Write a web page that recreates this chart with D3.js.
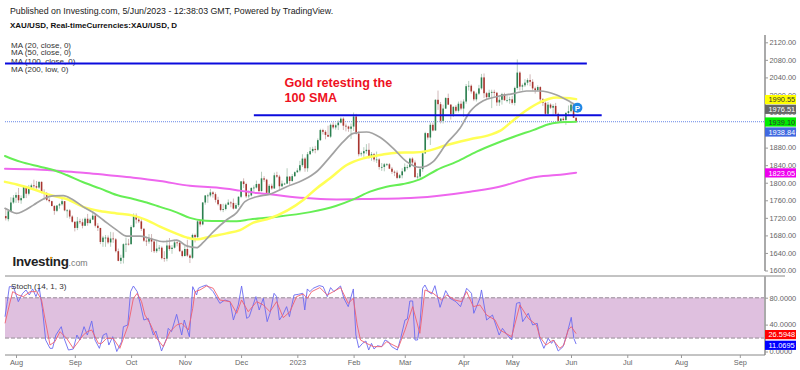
<!DOCTYPE html>
<html>
<head>
<meta charset="utf-8">
<script src="https://cdn.jsdelivr.net/npm/d3@7/dist/d3.min.js"></script>
<style>
  html, body { margin: 0; padding: 0; background: #fff; }
  svg { display: block; font-family: "Liberation Sans", Arial, sans-serif; }
</style>
</head>
<body>
<div id="chart"></div>
<script>
// daily candles, index 0 = 1 Aug 2022, first candle at -4, last at 219 (5 Jun 2023)
const firstIndex = -4;
const opens = [
  1724,1717,1735,1755,
  1766,1772,1760,1765,1791, 1775,1789,1794,1792,1789, 1802,1779,1775,1761,1758, 1747,1736,1748,1751,1758, 1737,1737,1723,
  1711,1697, 1712,1710,1702,1718,1708, 1716,1725,1702,1697,1665, 1675,1675,1664,1673,1671, 1644,1622,1629,1660,1661,
  1660,1699,1725,1716,1712, 1695,1668,1666,1673,1666, 1644,1650,1652,1628,1627, 1657,1649,1652,1664,1663, 1644,
  1633,1649,1634,1629, 1681,1676,1712,1705,1755, 1771,1771,1778,1774,1761, 1751,1738,1740,1750,1755, 1754,1741,1749,
  1768,1803, 1797,1769,1771,1788,1789, 1797,1781,1810,1807,1777, 1793,1787,1817,1814,1792, 1798,1798,1814,1804,1815,
  1824,1828,1840,1855,1833, 1865,1872,1877,1875,1897, 1920,1916,1909,1905,1932, 1926,1931,1937,1946,1930, 1928,1923,
  1928,1951,1912, 1865,1867,1872,1875,1861, 1865,1853,1853,1836,1836, 1842,1842,1832,1825,1823, 1811,1817,
  1826,1836,1836, 1855,1846,1813,1814,1831, 1867,1913,1903,1932,1919, 1989,1979,1941,1969,1993, 1978,1956,1973,1964,1980,
  1969,1985,2020,2021, 2008,1990,2003,2015,2040, 2004,1995,2005,2007,2005, 1983,1989,2002,1988,1988,
  1990,1982,2016,2051,2019, 2022,2028,2034,2030,2015, 2011,2018,1990,1982,1957, 1978,1971,1975,1957,1941, 1946,1943,1959,
  1963,1978,1948
];
const highs = [
  1741,1740,1767,1772,
  1778,1788,1771,1794,1792, 1795,1798,1807,1804,1803, 1803,1785,1779,1766,1759, 1749,1749,1754,1765,1758, 1740,1740,1726,
  1712,1722, 1718,1718,1721,1729,1720, 1735,1729,1708,1697,1679, 1681,1680,1688,1687,1674, 1650,1636,1662,1675,1672,
  1703,1730,1730,1723,1717, 1697,1677,1683,1683,1671, 1668,1658,1655,1644,1670, 1674,1658,1670,1669,1666, 1647,
  1656,1670,1637,1684, 1684,1717,1715,1756,1772, 1775,1786,1781,1778,1768, 1752,1752,1753,1762,1758, 1764,1754,1769,
  1804,1810, 1800,1782,1790,1794,1805, 1799,1825,1815,1809,1797, 1798,1823,1825,1818,1805, 1800,1833,1815,1820,1826,
  1833,1850,1865,1858,1870, 1881,1882,1884,1901,1923, 1923,1920,1930,1935,1938, 1935,1942,1949,1949,1935, 1930,1935,
  1960,1957,1918, 1871,1881,1888,1890,1870, 1868,1871,1856,1845,1845, 1845,1845,1836,1828,1828, 1820,1833,
  1844,1841,1857, 1858,1851,1822,1836,1870, 1916,1913,1937,1937,1990, 2010,1984,1978,1995,2003, 1979,1974,1977,1985,1987,
  1990,2025,2032,2024, 2010,2006,2023,2048,2049, 2007,2012,2012,2012,2007, 1995,2005,2005,1999,1996,
  1998,2019,2081,2054,2026, 2036,2038,2047,2036,2019, 2022,2020,1993,1985,1984, 1981,1979,1982,1960,1947, 1950,1961,1976,
  1983,1982,1949
];
const lows = [
  1714,1712,1733,1752,
  1754,1754,1752,1764,1765, 1771,1784,1788,1786,1786, 1776,1761,1758,1755,1746, 1727,1733,1741,1748,1735, 1720,1718,1709,
  1689,1692, 1706,1696,1701,1702,1707, 1715,1698,1690,1660,1654, 1654,1660,1654,1663,1641, 1621,1615,1616,1642,1657,
  1659,1697,1707,1708,1690, 1665,1656,1661,1642,1640, 1640,1644,1625,1620,1621, 1645,1638,1650,1655,1642, 1630,
  1632,1631,1617,1626, 1664,1672,1700,1703,1750, 1754,1767,1766,1755,1748, 1735,1733,1737,1749,1744, 1739,1741,1745,
  1765,1788, 1765,1765,1769,1780,1787, 1777,1780,1802,1774,1773, 1784,1786,1811,1783,1790, 1795,1797,1795,1802,1813,
  1822,1824,1836,1825,1825, 1863,1868,1867,1872,1895, 1910,1899,1904,1902,1922, 1921,1920,1935,1920,1917, 1916,1900,
  1918,1910,1860, 1860,1859,1866,1855,1850, 1848,1845,1830,1827,1826, 1838,1831,1820,1815,1808, 1809,1810,
  1824,1830,1833, 1841,1811,1809,1811,1825, 1866,1898,1886,1917,1919, 1966,1935,1935,1968,1977, 1944,1950,1960,1960,1965,
  1950,1980,2010,2003, 1986,1985,2000,2012,1993, 1990,1992,1970,1996,1975, 1975,1978,1987,1983,1980,
  1978,1976,2012,2010,2010, 2018,2022,2020,2010,2003, 2009,1985,1975,1952,1955, 1968,1955,1953,1936,1936, 1938,1932,1952,
  1960,1948,1938
];
const closes = [
  1719,1735,1755,1766,
  1772,1760,1765,1791,1775, 1789,1794,1792,1789,1802, 1779,1775,1761,1758,1747, 1736,1748,1751,1758,1737, 1737,1723,1711,
  1697,1712, 1710,1702,1718,1708,1716, 1725,1702,1697,1665,1675, 1675,1664,1673,1671,1644, 1622,1629,1660,1661,1660,
  1699,1725,1716,1712,1695, 1668,1666,1673,1666,1644, 1650,1652,1628,1627,1657, 1649,1652,1664,1663,1644, 1633,
  1649,1634,1629,1681, 1676,1712,1705,1755,1771, 1771,1778,1774,1761,1751, 1738,1740,1750,1755,1754, 1741,1749,1768,
  1803,1797, 1769,1771,1788,1789,1797, 1781,1810,1807,1777,1793, 1787,1817,1814,1792,1798, 1798,1814,1804,1815,1824,
  1828,1840,1855,1833,1865, 1872,1877,1875,1897,1920, 1916,1909,1905,1932,1926, 1931,1937,1946,1930,1928, 1923,1928,
  1951,1912,1865, 1867,1872,1875,1861,1865, 1853,1853,1836,1836,1842, 1842,1832,1825,1823,1811, 1817,1826,
  1836,1836,1855, 1846,1813,1814,1831,1867, 1913,1903,1932,1919,1989, 1979,1941,1969,1993,1978, 1956,1973,1964,1980,1969,
  1985,2020,2021,2008, 1990,2003,2015,2040,2004, 1995,2005,2007,2005,1983, 1989,2002,1988,1988,1990,
  1982,2016,2051,2019,2022, 2028,2034,2030,2015,2011, 2018,1990,1982,1957,1978, 1971,1975,1957,1941,1946, 1943,1959,1963,
  1978,1948,1939
];

// moving averages at these candle positions
const ma20Idx = [-4.3,-2.3,0.3,2.9,6.8,10.7,14.6,18.5,21.8,26.3,30.2,34.1,39.4,43.3,48.5,52.4,57.6,62.8,66.7,70.6,73.2,77.1,82.3,86.3,89.5,94.1,99.3,105.8,112.3,117.5,122.8,128,131.9,137.1,142.3,147.5,152.7,157.9,163.1,168.4,173.6,177.5,182.7,187.9,194.4,199.6,204.8,211.4,216.6,219];
const ma20 = [1741.6,1735.5,1730,1735.5,1749,1763,1770,1770.5,1763,1745,1732,1715,1692,1678.5,1678.5,1673,1665.6,1669,1656,1652,1664,1688,1715,1732,1757,1768,1774,1791,1806,1825,1859,1893.6,1912.6,1915.6,1903.5,1878.4,1848,1835,1848,1890,1924,1962,1987,1996,2003,2009,2009,2000,1984.7,1976.5];
const ma50Idx = [-4.3,0.3,6.8,13.3,19.8,26.3,32.8,39.4,45.9,51.1,56.3,61.5,66.7,70.6,75.8,82.3,87.6,92.8,99.3,112.3,117.5,122.8,129.3,135.8,142.3,148.8,155.3,160.5,168.4,177.5,185.3,189.2,194.4,199.6,204.8,211.4,219];
const ma50 = [1802,1796,1785,1772,1763,1745,1735.5,1730,1725,1715,1700,1687,1675.5,1671,1677,1684.6,1692,1709,1719,1760.6,1787,1810,1840.4,1855.6,1863,1868.5,1869,1872,1886,1899,1909,1918,1942,1965,1983,1994,1990.5];
const ma100Idx = [-4.3,1.6,9.4,14.6,19.8,26.3,32.8,39.4,45.9,51.1,56.3,62.8,68,73.2,79.7,86.3,91.5,99.3,115,125,131.9,138.4,144.9,151.4,157.9,164.5,172.3,180.1,187.9,195.7,202.2,208.7,215.3,219];
const ma100 = [1861,1848,1836.5,1829,1817.5,1801,1787,1772,1763,1755,1745,1732.5,1720,1714,1712.7,1712,1716.5,1721,1733,1747,1762,1779.6,1791,1797,1807.7,1829,1848,1871,1890,1907,1920,1933.8,1938.3,1939.1];
const ma200Idx = [-4.3,6.8,17.2,26.3,35.4,45.9,56.3,68,78.4,87.6,94.1,99.3,107.1,116.2,125.4,138.4,151.4,164.5,177.5,190.5,195.7,202.2,211.4,219];
const ma200 = [1832,1830.5,1826.7,1823,1817.5,1811.5,1804,1793,1789,1782,1776.5,1774,1768,1764,1762,1763,1764.4,1770,1779.6,1793,1802,1812,1817.5,1823];

// stochastic, blue %K and red %D
const stochKIdx = [-4.3,-3.4,-2.6,-1,0.9,2.6,3.9,5.2,6.5,7.8,9.1,10.3,11.6,13.3,14.3,15.6,17.7,18.8,20.5,22.4,23.8,25,26.6,27.9,29.6,30.9,32.6,34.1,35.4,36.3,37.8,39.4,41.3,42,43.7,44.8,45.9,47.4,48.7,50,51.7,53.7,54.7,56.9,58.9,59.5,60.8,62.8,64.8,65.8,67.8,69.1,70.6,71.3,72.6,74.5,77.1,79.7,81.7,83.7,85,86.9,88.2,90.2,91.2,93.8,95.1,96.7,98.2,99.3,100.9,101.9,103,104.3,105.8,106.9,108.7,110.4,112.1,112.9,113.9,114.9,116.2,118.6,120.1,121.7,123,124.3,126.9,128.2,129.9,131.9,132.9,134,135.5,136.8,137.9,139,140,141.3,143,144.3,145.6,146.9,149.1,150.4,152.1,153,154,155.1,156,157,157.9,159,159.9,161.2,162.5,163.8,165.8,168,169.7,172,173.8,176.2,178.1,179,181.4,182,184,186.3,188.9,190.2,191.6,193.8,195.7,197,198.1,200.3,202,203.8,204.8,206.4,208.1,209.4,210.3,212,213.9,215.5,217.1,218.1,219];
const stochK = [51.8,74.1,96.4,96.4,74.1,86.5,91.5,84,93,81.6,94,64.2,17.1,4.7,4.7,24.5,36.9,19.6,2.2,3.7,24.5,17.1,36.9,24.5,45.4,17.1,4.7,24.5,27,9.6,22,0,14.6,36.9,39.4,89,97.4,89,69.2,46.8,49.3,24.5,30.5,0.7,19.6,34.4,29.5,55.3,24.5,46.8,22,96.4,84,94,96.4,98.9,89,71.6,76.6,74.1,46.8,69.2,97.4,49.3,51.8,81.6,61.7,79.1,44.4,56.8,86.5,81.6,46.8,54.3,66.7,51.8,84,85,86.5,61.7,93,89,94,98,96.4,81.6,95,89,97.4,79.1,66.7,93,24.5,5.7,12.1,15.6,2.2,12.1,3.7,8.6,7.2,17.1,14.6,7.2,2.2,19.6,46.8,48.3,75.1,75.1,17.1,17.1,39.4,94,98.9,89,85.5,97.9,65.7,90.5,79.1,74.1,66.7,94,86.5,56.8,79.1,91.5,46.8,54.3,24.5,34.4,27,17.1,71.6,73.1,44.4,56.8,39.4,41.9,19.6,4.7,19.6,12.1,17.1,0.7,7.2,27,50.8,19.6,11.07];
const stochDIdx = [-4.3,-2.6,-1.3,0.9,2.9,5.5,8.1,10,11.3,13.3,15.2,17.2,19.8,22.4,24.4,26.3,27.9,29.6,32.2,33.5,35.4,38,40.6,43.9,45.9,47.4,49.1,50.4,52.4,55,57.6,60.2,62.8,64.8,67.4,69.1,70,71.9,74.5,77.1,79.7,83.7,86.3,88.2,90.8,94.1,96.7,99.3,101.9,104.5,107.1,109.7,112.3,113.9,115.6,118.8,121.7,124.1,126.9,129.9,131.9,133.4,134.7,137.1,139.7,143,144.9,149.5,152.1,155.1,157.9,159.9,163.1,166.4,168.4,171.6,174.2,176.2,178.8,181.4,184,187.3,189.2,193.8,197,200.3,203.5,204.8,207.2,210,212.6,214.2,215.9,217.1,219];
const stochD = [41.9,69.2,89,84,81.6,89,89,76.6,49.3,9.6,14.6,29.5,19.6,4.7,14.6,24.5,29.5,32,12.1,12.1,19.6,19.6,4.7,39.4,79.1,86.5,74.1,54.3,41.9,19.6,7.2,29.5,39.4,41.9,32,64.2,89,91.5,97.4,94,76.6,74.1,56.8,76.6,59.2,74.1,69.2,59.2,74.1,50.3,59.2,81.6,85.5,79.1,89,95,84,89,95,71.6,79.1,39.4,17.1,12.1,7.2,7.2,14.6,5.7,32,66.7,27,91.5,86.5,76.6,84,76.6,74.1,89,66.7,69.2,54.3,46.8,32,22,69.2,49.3,39.4,22,9.6,17.1,4.7,9.6,32,36.9,26.59];

// axis labels
const priceTicks = d3.range(1600, 2121, 40);
const stochTicks = [0, 40, 80];
const monthIdx = [0,23,45,66,88,110,132,152,175,194,217,239,260,283];
const monthLabels = ['Aug','Sep','Oct','Nov','Dec','2023','Feb','Mar','Apr','May','Jun','Jul','Aug','Sep'];

// hand drawn trend lines: price, from index, to index
const trendPrices = [2071.5, 1953.6];
const trendFrom = [-4.3, 93];
const trendTo = [223.2, 229];
const lastPrice = 1939;

// price tags on the right axis
const tagLabels = ['1990.55','1976.51','1939.10','1938.84','1823.05'];
const tagFills = ['#ffff00','#666666','#00ee00','#4169e1','#ee00ee'];
const tagText = ['#333','#fff','#333','#fff','#fff'];
const tagTops = [95,104.7,117.4,127.4,168.3];
const stochTagLabels = ['26.5948','11.0695'];
const stochTagFills = ['#ff0000','#0000ff'];
const stochTagTops = [330,340.7];

const legendLines = ['MA (20, close, 0)','MA (50, close, 0)','MA (100, close, 0)','MA (200, low, 0)'];
const legendYs = [47.8,55.2,63.6,72];

const width = 800, height = 370;
const plotLeft = 5, plotRight = 765;

const x = d3.scaleLinear().domain([0, 217]).range([16, 571]);
const y = d3.scaleLinear().domain([1600, 2120]).range([270.5, 42.3]);
const yStoch = d3.scaleLinear().domain([0, 80]).range([351.5, 297.7]);

const svg = d3.select('#chart').append('svg')
  .attr('width', width)
  .attr('height', height)
  .attr('viewBox', `0 0 ${width} ${height}`);

// header
svg.append('text').attr('x', 10).attr('y', 13.5).attr('font-size', 8.8).attr('fill', '#222')
  .text('Published on Investing.com, 5/Jun/2023 - 12:38:03 GMT, Powered by TradingView.');
svg.append('text').attr('x', 10).attr('y', 27.5).attr('font-size', 8).attr('font-weight', 'bold').attr('fill', '#111')
  .text('XAU/USD, Real-timeCurrencies:XAU/USD, D');
svg.append('g').selectAll('text').data(legendLines).join('text')
  .attr('x', 11)
  .attr('y', (d, i) => legendYs[i])
  .attr('font-size', 8)
  .attr('fill', '#333')
  .text((d) => d);

// stochastic band
svg.append('rect')
  .attr('x', plotLeft)
  .attr('width', plotRight - plotLeft)
  .attr('y', yStoch(80))
  .attr('height', yStoch(20) - yStoch(80))
  .attr('fill', '#dfc0df');
svg.append('g').selectAll('line').data([20, 80]).join('line')
  .attr('x1', plotLeft).attr('x2', plotRight)
  .attr('y1', (d) => yStoch(d)).attr('y2', (d) => yStoch(d))
  .attr('stroke', '#b3a5b3')
  .attr('stroke-width', 1.5)
  .attr('stroke-dasharray', '4 2');

// current price line
svg.append('line')
  .attr('x1', plotLeft).attr('x2', plotRight)
  .attr('y1', y(lastPrice)).attr('y2', y(lastPrice))
  .attr('stroke', '#4169e1')
  .attr('stroke-width', 0.8)
  .attr('stroke-dasharray', '1 1');

// candles
const candles = closes.map((c, i) => ({
  i: i + firstIndex, o: opens[i], h: highs[i], l: lows[i], c,
}));
const candle = svg.append('g').selectAll('g').data(candles).join('g');
candle.append('line')
  .attr('x1', (d) => x(d.i)).attr('x2', (d) => x(d.i))
  .attr('y1', (d) => y(d.h)).attr('y2', (d) => y(d.l))
  .attr('stroke', (d) => (d.c >= d.o ? '#b5cdbd' : '#d0b8b8'))
  .attr('stroke-width', 1);
candle.append('rect')
  .attr('x', (d) => x(d.i) - 0.8)
  .attr('width', 1.6)
  .attr('y', (d) => y(Math.max(d.o, d.c)))
  .attr('height', (d) => Math.max(0.8, Math.abs(y(d.o) - y(d.c))))
  .attr('fill', (d) => (d.c >= d.o ? '#2b8050' : '#a8352f'));

// moving averages
const maLine = d3.line().x((d) => x(d[0])).y((d) => y(d[1])).curve(d3.curveMonotoneX);
const drawMa = (idx, vals, color, sw) => svg.append('path')
  .attr('d', maLine(idx.map((v, i) => [v, vals[i]])))
  .attr('fill', 'none')
  .attr('stroke', color)
  .attr('stroke-width', sw)
  .attr('stroke-linecap', 'round');
drawMa(ma200Idx, ma200, '#ee66ee', 2);
drawMa(ma100Idx, ma100, '#66ee55', 2);
drawMa(ma50Idx, ma50, '#ffff55', 2.5);
drawMa(ma20Idx, ma20, '#a2a2a2', 1.7);

// trend lines
svg.append('g').selectAll('line').data(trendPrices).join('line')
  .attr('x1', (d, i) => x(trendFrom[i])).attr('x2', (d, i) => x(trendTo[i]))
  .attr('y1', (d) => y(d)).attr('y2', (d) => y(d))
  .attr('stroke', '#0b0bdd')
  .attr('stroke-width', 2);

// annotation
svg.append('g').selectAll('text').data(['Gold retesting the', '100 SMA']).join('text')
  .attr('x', 284.5)
  .attr('y', (d, i) => 87 + i * 14.5)
  .attr('font-size', 12.6)
  .attr('font-weight', 'bold')
  .attr('fill', '#ee1122')
  .text((d) => d);

// P badge on the last candle
const badge = svg.append('g').attr('transform', `translate(${x(219.5)},${y(1971)})`);
badge.append('circle').attr('r', 5).attr('fill', '#1e88e5');
badge.append('text').attr('text-anchor', 'middle').attr('y', 3).attr('font-size', 8)
  .attr('font-weight', 'bold').attr('fill', '#fff').text('P');

// stochastic lines
const stochLine = d3.line().x((d) => x(d[0])).y((d) => yStoch(d[1]));
const drawStoch = (idx, vals, color) => svg.append('path')
  .attr('d', stochLine(idx.map((v, i) => [v, vals[i]])))
  .attr('fill', 'none')
  .attr('stroke', color)
  .attr('stroke-width', 0.9);
drawStoch(stochKIdx, stochK, '#6a6af0');
drawStoch(stochDIdx, stochD, '#f0606f');

svg.append('text').attr('x', 11).attr('y', 289).attr('font-size', 8.1).attr('fill', '#333')
  .text('Stoch (14, 1, 3)');

// logo
const logo = svg.append('text').attr('x', 12.5).attr('y', 266);
logo.append('tspan').attr('font-size', 13.4).attr('font-weight', 'bold').attr('fill', '#222')
  .attr('letter-spacing', -0.3).text('Investing');
logo.append('tspan').attr('font-size', 8.8).attr('fill', '#777').text('.com');
svg.append('circle').attr('cx', 51).attr('cy', 257.8).attr('r', 1.1).attr('fill', '#f39c12');

// frame lines
svg.append('line').attr('x1', plotLeft).attr('x2', 785).attr('y1', 276).attr('y2', 276)
  .attr('stroke', '#888').attr('stroke-width', 1);

// price axis
const priceAxis = svg.append('g').attr('transform', `translate(${plotRight},0)`)
  .call(d3.axisRight(y).tickValues(priceTicks).tickSize(3).tickPadding(1.5).tickFormat(d3.format('.2f')));
priceAxis.select('.domain').attr('d', 'M0,35V271').attr('stroke', '#aaa').attr('stroke-width', 2);
const stochAxis = svg.append('g').attr('transform', `translate(${plotRight},0)`)
  .call(d3.axisRight(yStoch).tickValues(stochTicks).tickSize(3).tickPadding(1.5).tickFormat(d3.format('.4f')));
stochAxis.select('.domain').attr('d', 'M0,276V355').attr('stroke', '#aaa').attr('stroke-width', 2);
const timeAxis = svg.append('g').attr('transform', 'translate(0,355)')
  .call(d3.axisBottom(x).tickValues(monthIdx).tickSize(3).tickPadding(2).tickFormat((d, i) => monthLabels[i]));
timeAxis.select('.domain').attr('d', `M${plotLeft},0H${plotRight}`).attr('stroke', '#888').attr('stroke-width', 1);
[priceAxis, stochAxis, timeAxis].forEach((a) => {
  a.attr('font-family', null).attr('font-size', null);
  a.selectAll('text').attr('font-size', 7.4).attr('fill', '#666');
  a.selectAll('.tick line').attr('stroke', '#999');
});

// price tags
const drawTags = (labels, fills, tops, textColors) => {
  const tag = svg.append('g').selectAll('g').data(labels).join('g')
    .attr('transform', (d, i) => `translate(${plotRight},${tops[i]})`);
  tag.append('rect').attr('width', 31).attr('height', 9.2).attr('fill', (d, i) => fills[i]);
  tag.append('text').attr('x', 3.5).attr('y', 7.3).attr('font-size', 7.4)
    .attr('fill', (d, i) => textColors[i]).text((d) => d);
};
drawTags(tagLabels, tagFills, tagTops, tagText);
drawTags(stochTagLabels, stochTagFills, stochTagTops, ['#fff', '#fff']);
</script>
</body>
</html>
